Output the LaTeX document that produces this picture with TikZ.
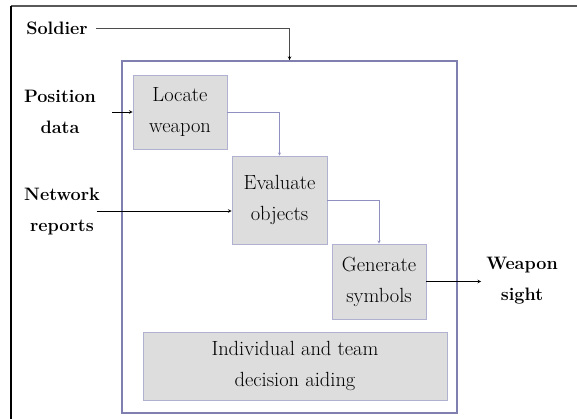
\documentclass[tikz,border=0pt]{standalone}
\usetikzlibrary{arrows,shapes,positioning}
\definecolor{boxfill}{RGB}{221,221,221}
\definecolor{boxline}{RGB}{176,176,208}
\definecolor{sysline}{RGB}{128,128,176}
\definecolor{linkline}{RGB}{144,144,192}
\tikzstyle{process} = [rectangle, fill=boxfill, draw=boxline, thick, align=center, inner sep=0pt, font=\fontsize{20.5}{31}\selectfont]
\tikzstyle{ext} = [align=center, inner sep=0pt, font=\bfseries\fontsize{18}{31}\selectfont]
\tikzstyle{feed} = [semithick,->,>=stealth]
\tikzstyle{link} = [linkline,->,>=stealth]

\begin{document}
\begin{tikzpicture}[x=1pt,y=-1pt]
                        \useasboundingbox (0,0) rectangle (577,419);
                        \draw[gray!70!black, line width=1.5pt] (11,6) -- (577,6);
                        \draw[black, line width=1.2pt] (11,6) -- (11,419);
                        \node [draw=sysline, line width=2pt, minimum width=335pt, minimum height=352pt] (system) at (289.5,237) {};
                        \node [process, minimum width=94pt, minimum height=74pt] (locate) at (180,112) {Locate\\weapon};
                        \node [process, minimum width=95pt, minimum height=88pt] (evaluate) at (279.5,200) {Evaluate\\objects};
                        \node [process, minimum width=94pt, minimum height=75pt] (generate) at (379,281.5) {Generate\\symbols};
                        \node [process, minimum width=304pt, minimum height=68pt] (aiding) at (295,366) {Individual and team\\decision aiding};
                        \node [ext] (soldier) at (57,28) {Soldier};
                        \node [ext] (position) at (60,112) {Position\\data};
                        \node [ext] (network) at (62,212) {Network\\reports};
                        \node [ext] (weapon) at (522,281) {Weapon\\sight};
                        \coordinate (posin) at (112,112);
                        \draw [gray!60!black] (soldier.east) ++(8,0) -| (system.north);
                        \draw [feed] (soldier.east -| system.north) ++(0,28) -- (system.north);
                        \draw [feed] (posin) -- (locate.west);
                        \draw [feed] (network.east) ++(-3,-1) -- (evaluate.west |- 0,211);
                        \draw [link] (locate.east) -| (evaluate.north);
                        \draw [link] (evaluate.east) -| (generate.north);
                        \draw [feed] (generate.east) -- ([xshift=-5pt]weapon.west |- generate.east);
                    \end{tikzpicture}
\end{document}
